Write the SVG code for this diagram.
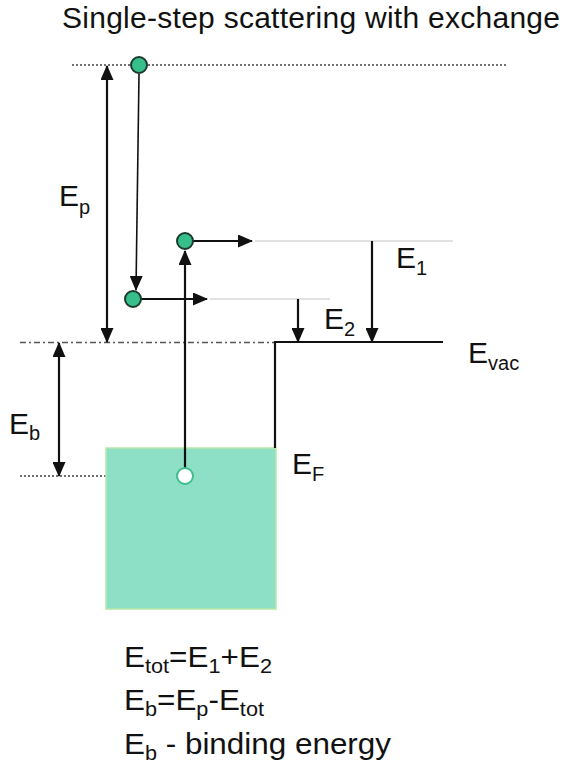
<svg xmlns="http://www.w3.org/2000/svg" width="580" height="778" viewBox="0 0 580 778">
<style>
text{font-family:"Liberation Sans",Arial,sans-serif;fill:#111;}
.lbl{font-size:30px;}
.sub{font-size:20px;}
.f{font-size:29px;}
.ln{stroke:#111;stroke-width:2.2;fill:none;}
.thin{stroke:#111;stroke-width:1.6;fill:none;}
.dot{stroke:#444;stroke-width:1.5;stroke-dasharray:2 2;fill:none;}
.dashdot{stroke:#555;stroke-width:1.3;stroke-dasharray:6 3 2 3;fill:none;}
.gray{stroke:#c4c4c4;stroke-width:1;fill:none;}
.el{fill:#36bf8a;stroke:#1d3a2f;stroke-width:2;}
</style>
<defs>
<marker id="ah" markerUnits="userSpaceOnUse" markerWidth="15" markerHeight="13" refX="14" refY="6.5" orient="auto-start-reverse">
<path d="M0,0 L15,6.5 L0,13 Z" fill="#111"/>
</marker>
</defs>
<rect width="580" height="778" fill="#fff"/>
<g id="title">
<text x="62" y="28" style="font-size:30px" textLength="498" lengthAdjust="spacing">Single-step scattering with exchange</text>
</g>
<g id="levels">
<line class="dot" x1="72" y1="65" x2="508" y2="65"/>
<line class="dashdot" x1="20" y1="342.5" x2="275" y2="342.5"/>
<line class="dot" x1="20" y1="476" x2="132" y2="476"/>
<line class="gray" x1="255" y1="241" x2="453" y2="241"/>
<line class="gray" x1="210" y1="299" x2="330" y2="299"/>
</g>
<g id="solid">
<rect x="106" y="448" width="170" height="161" fill="#8ddfc6" stroke="#b9e8a6" stroke-width="1.5"/>
<path class="ln" d="M275,448 V342 H443"/>
</g>
<g id="connectors">
<line class="ln" x1="107" y1="66" x2="107" y2="342" marker-start="url(#ah)" marker-end="url(#ah)"/>
<line class="ln" x1="59" y1="343" x2="59" y2="476" marker-start="url(#ah)" marker-end="url(#ah)"/>
<line class="thin" x1="139" y1="74" x2="136" y2="290" marker-end="url(#ah)"/>
<line class="ln" x1="185" y1="468" x2="185" y2="251" marker-end="url(#ah)"/>
<line class="ln" x1="193" y1="241" x2="252" y2="241" marker-end="url(#ah)"/>
<line class="ln" x1="141" y1="299" x2="207" y2="299" marker-end="url(#ah)"/>
<line class="ln" x1="372" y1="241" x2="372" y2="342" marker-end="url(#ah)"/>
<line class="ln" x1="298" y1="299" x2="298" y2="342" marker-end="url(#ah)"/>
</g>
<g id="electron-primary"><circle class="el" cx="139" cy="65" r="8"/></g>
<g id="electron-1"><circle class="el" cx="185" cy="241" r="8"/></g>
<g id="electron-2"><circle class="el" cx="133" cy="299" r="8"/></g>
<g id="hole"><circle cx="185" cy="476" r="8" fill="#fff" stroke="#3bbf8c" stroke-width="2"/></g>
<g id="labels">
<text class="lbl" x="59" y="206">E<tspan class="sub" dy="8">p</tspan></text>
<text class="lbl" x="396" y="268">E<tspan class="sub" dy="7">1</tspan></text>
<text class="lbl" x="324" y="329">E<tspan class="sub" dy="7">2</tspan></text>
<text class="lbl" x="468" y="363">E<tspan class="sub" dy="7">vac</tspan></text>
<text class="lbl" x="9" y="434">E<tspan class="sub" dy="6">b</tspan></text>
<text class="lbl" x="292" y="474">E<tspan class="sub" dy="7">F</tspan></text>
</g>
<g id="formulas">
<text class="f" x="124" y="667" textLength="148" lengthAdjust="spacingAndGlyphs">E<tspan class="sub" dy="6">tot</tspan><tspan dy="-6">=E</tspan><tspan class="sub" dy="6">1</tspan><tspan dy="-6">+E</tspan><tspan class="sub" dy="6">2</tspan></text>
<text class="f" x="124" y="710" textLength="140" lengthAdjust="spacingAndGlyphs">E<tspan class="sub" dy="6">b</tspan><tspan dy="-6">=E</tspan><tspan class="sub" dy="6">p</tspan><tspan dy="-6">-E</tspan><tspan class="sub" dy="6">tot</tspan></text>
<text class="f" x="124" y="754" textLength="267" lengthAdjust="spacingAndGlyphs">E<tspan class="sub" dy="6">b</tspan><tspan dy="-6"> - binding energy</tspan></text>
</g>
</svg>
